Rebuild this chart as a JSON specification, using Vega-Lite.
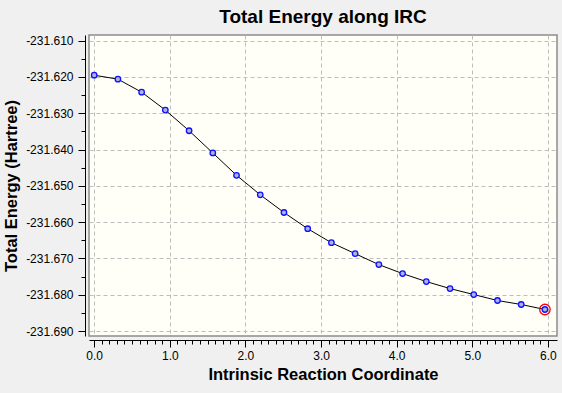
{
  "$schema": "https://vega.github.io/schema/vega-lite/v6.json",
  "width": 468,
  "height": 301,
  "autosize": {"type": "none"},
  "padding": {"left": 89, "top": 35, "right": 5, "bottom": 57},
  "background": "#f0f0f0",
  "title": {
    "text": "Total Energy along IRC",
    "font": "Liberation Sans",
    "fontSize": 19,
    "fontWeight": "bold",
    "color": "#000000",
    "anchor": "middle",
    "frame": "group",
    "offset": 8
  },
  "config": {
    "view": {"fill": "#fffff7", "stroke": "#8c8c8c", "strokeWidth": 1.5},
    "axis": {
      "labelFont": "Liberation Sans",
      "labelFontSize": 12,
      "labelColor": "#000000",
      "titleFont": "Liberation Sans",
      "titleFontSize": 16.5,
      "titleFontWeight": "bold",
      "titleColor": "#000000",
      "domainColor": "#000000",
      "tickColor": "#000000",
      "gridColor": "#bdbdbd",
      "gridDash": [4, 3],
      "gridWidth": 1
    }
  },
  "data": {
    "values": [
      {"irc": 0.0, "energy": -231.61951, "last": false},
      {"irc": 0.3137, "energy": -231.6206, "last": false},
      {"irc": 0.6274, "energy": -231.62418, "last": false},
      {"irc": 0.9411, "energy": -231.62912, "last": false},
      {"irc": 1.2548, "energy": -231.63481, "last": false},
      {"irc": 1.5685, "energy": -231.64093, "last": false},
      {"irc": 1.8822, "energy": -231.64709, "last": false},
      {"irc": 2.1959, "energy": -231.65247, "last": false},
      {"irc": 2.5096, "energy": -231.65734, "last": false},
      {"irc": 2.8233, "energy": -231.66181, "last": false},
      {"irc": 3.137, "energy": -231.66566, "last": false},
      {"irc": 3.4507, "energy": -231.66868, "last": false},
      {"irc": 3.7644, "energy": -231.6717, "last": false},
      {"irc": 4.0781, "energy": -231.67418, "last": false},
      {"irc": 4.3918, "energy": -231.67637, "last": false},
      {"irc": 4.7055, "energy": -231.6783, "last": false},
      {"irc": 5.0192, "energy": -231.67995, "last": false},
      {"irc": 5.3329, "energy": -231.68159, "last": false},
      {"irc": 5.6466, "energy": -231.68269, "last": false},
      {"irc": 5.9603, "energy": -231.68407, "last": true}
    ]
  },
  "encoding": {
    "x": {
      "field": "irc",
      "type": "quantitative",
      "scale": {"domain": [-0.0686, 6.12], "nice": false, "zero": false},
      "axis": {
        "title": "Intrinsic Reaction Coordinate",
        "values": [0,0.1,0.2,0.3,0.4,0.5,0.6,0.7,0.8,0.9,1,1.1,1.2,1.3,1.4,1.5,1.6,1.7,1.8,1.9,2,2.1,2.2,2.3,2.4,2.5,2.6,2.7,2.8,2.9,3,3.1,3.2,3.3,3.4,3.5,3.6,3.7,3.8,3.9,4,4.1,4.2,4.3,4.4,4.5,4.6,4.7,4.8,4.9,5,5.1,5.2,5.3,5.4,5.5,5.6,5.7,5.8,5.9,6],
        "labelExpr": "abs(datum.value - round(datum.value)) < 0.001 ? format(datum.value, '.1f') : ''",
        "tickSize": {"condition": {"test": "abs(datum.value - round(datum.value)) < 0.001", "value": 7}, "value": 4},
        "gridOpacity": {"condition": {"test": "abs(datum.value - round(datum.value)) < 0.001", "value": 1}, "value": 0},
        "offset": 4,
        "labelPadding": 3,
        "labelFlush": false,
        "labelOverlap": false,
        "titlePadding": 5
      }
    },
    "y": {
      "field": "energy",
      "type": "quantitative",
      "scale": {"domain": [-231.69137, -231.60843], "nice": false, "zero": false},
      "axis": {
        "title": "Total Energy (Hartree)",
        "values": [-231.69,-231.685,-231.68,-231.675,-231.67,-231.665,-231.66,-231.655,-231.65,-231.645,-231.64,-231.635,-231.63,-231.625,-231.62,-231.615,-231.61],
        "labelExpr": "abs(datum.value*100 - round(datum.value*100)) < 0.01 ? '-' + format(abs(datum.value), '.3f') : ''",
        "tickSize": {"condition": {"test": "abs(datum.value*100 - round(datum.value*100)) < 0.01", "value": 7}, "value": 4},
        "gridOpacity": {"condition": {"test": "abs(datum.value*100 - round(datum.value*100)) < 0.01", "value": 1}, "value": 0},
        "offset": 4,
        "labelPadding": 5,
        "labelFlush": false,
        "labelOverlap": false,
        "titlePadding": 6
      }
    }
  },
  "layer": [
    {"mark": {"type": "line", "color": "#000000", "strokeWidth": 1}},
    {"mark": {"type": "point", "shape": "circle", "filled": true, "fill": "#aab4d6", "stroke": "#1010ff", "strokeWidth": 1.3, "size": 30, "opacity": 1}},
    {
      "transform": [{"filter": "datum.last"}],
      "mark": {"type": "point", "shape": "circle", "filled": false, "stroke": "#ff0000", "strokeWidth": 1.3, "size": 110, "opacity": 1}
    }
  ]
}
